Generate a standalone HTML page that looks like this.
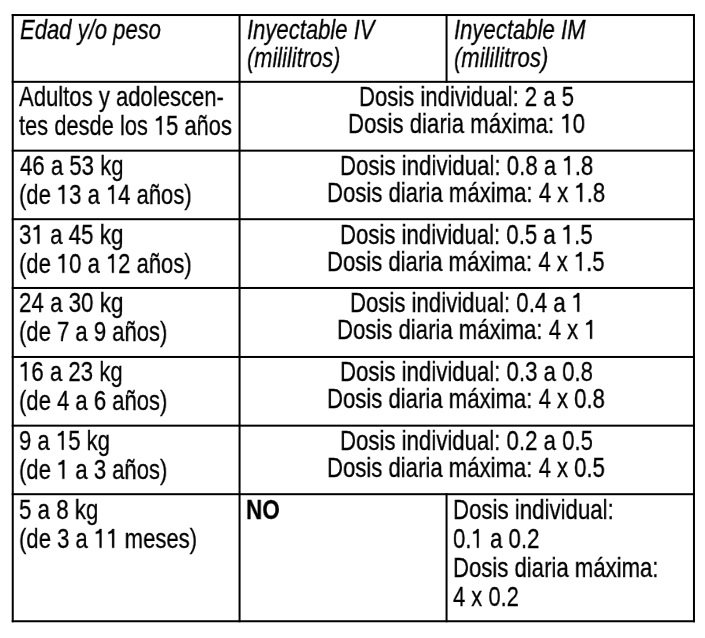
<!DOCTYPE html>
<html><head><meta charset="utf-8"><style>
html,body{margin:0;padding:0;background:#fff;width:705px;height:638px;overflow:hidden}
body{position:relative}
.g{position:absolute;left:0;top:0}
.t{position:absolute;font-family:"Liberation Sans",sans-serif;font-size:28px;line-height:28px;white-space:pre;color:#000;transform-origin:0 0;will-change:transform;-webkit-text-stroke:0.3px #000}
.o1{display:inline-block;width:15.572px;height:0;position:relative}.o1 svg{position:absolute;left:0;bottom:0;overflow:visible}.o1 path{stroke:#000;stroke-width:22;stroke-linejoin:round}
</style></head><body>
<svg class="g" width="705" height="638" viewBox="0 0 705 638">
<rect x="11.74" y="14.03" width="683.22" height="2.0"/>
<rect x="11.74" y="80.82" width="683.22" height="2.0"/>
<rect x="11.74" y="149.66" width="683.22" height="2.0"/>
<rect x="11.74" y="218.20" width="683.22" height="2.0"/>
<rect x="11.74" y="286.97" width="683.22" height="2.0"/>
<rect x="11.74" y="355.97" width="683.22" height="2.0"/>
<rect x="11.74" y="424.66" width="683.22" height="2.0"/>
<rect x="11.74" y="493.20" width="683.22" height="2.0"/>
<rect x="11.74" y="620.25" width="683.22" height="2.0"/>
<rect x="11.74" y="14.03" width="2.0" height="608.22"/>
<rect x="238.56" y="14.03" width="2.0" height="608.22"/>
<rect x="692.96" y="14.03" width="2.0" height="608.22"/>
<rect x="445.56" y="14.03" width="2.0" height="68.79"/>
<rect x="445.56" y="493.20" width="2.0" height="129.05"/>
</svg>
<div class="t" style="left:20.01px;top:16px;font-style:italic;transform:scaleX(0.7871)">Edad y/o peso</div>
<div class="t" style="left:247.21px;top:16px;font-style:italic;transform:scaleX(0.7877)">Inyectable IV</div>
<div class="t" style="left:247.42px;top:44px;font-style:italic;transform:scaleX(0.7797)">(mililitros)</div>
<div class="t" style="left:454.31px;top:16px;font-style:italic;transform:scaleX(0.7898)">Inyectable IM</div>
<div class="t" style="left:454.31px;top:44px;font-style:italic;transform:scaleX(0.7864)">(mililitros)</div>
<div class="t" style="left:19.20px;top:83px;transform:scaleX(0.7884)">Adultos y adolescen-</div>
<div class="t" style="left:19.30px;top:112px;transform:scaleX(0.7812)">tes desde los <span class="o1"><svg width="15.57" height="19.26" viewBox="0 0 1139 1409"><path d="M515 1380V300L165 372V222Q420 185 535 0H696V1380Z"/></svg></span>5 años</div>
<div class="t" style="left:19.50px;top:152px;transform:scaleX(0.7915)">46 a 53 kg</div>
<div class="t" style="left:19.41px;top:181px;transform:scaleX(0.7866)">(de <span class="o1"><svg width="15.57" height="19.26" viewBox="0 0 1139 1409"><path d="M515 1380V300L165 372V222Q420 185 535 0H696V1380Z"/></svg></span>3 a <span class="o1"><svg width="15.57" height="19.26" viewBox="0 0 1139 1409"><path d="M515 1380V300L165 372V222Q420 185 535 0H696V1380Z"/></svg></span>4 años)</div>
<div class="t" style="left:18.70px;top:221px;transform:scaleX(0.7977)">3<span class="o1"><svg width="15.57" height="19.26" viewBox="0 0 1139 1409"><path d="M515 1380V300L165 372V222Q420 185 535 0H696V1380Z"/></svg></span> a 45 kg</div>
<div class="t" style="left:19.41px;top:250px;transform:scaleX(0.7866)">(de <span class="o1"><svg width="15.57" height="19.26" viewBox="0 0 1139 1409"><path d="M515 1380V300L165 372V222Q420 185 535 0H696V1380Z"/></svg></span>0 a <span class="o1"><svg width="15.57" height="19.26" viewBox="0 0 1139 1409"><path d="M515 1380V300L165 372V222Q420 185 535 0H696V1380Z"/></svg></span>2 años)</div>
<div class="t" style="left:18.70px;top:289px;transform:scaleX(0.7977)">24 a 30 kg</div>
<div class="t" style="left:19.41px;top:318px;transform:scaleX(0.7876)">(de 7 a 9 años)</div>
<div class="t" style="left:19.31px;top:358px;transform:scaleX(0.7929)"><span class="o1"><svg width="15.57" height="19.26" viewBox="0 0 1139 1409"><path d="M515 1380V300L165 372V222Q420 185 535 0H696V1380Z"/></svg></span>6 a 23 kg</div>
<div class="t" style="left:19.41px;top:387px;transform:scaleX(0.7876)">(de 4 a 6 años)</div>
<div class="t" style="left:18.71px;top:427px;transform:scaleX(0.7903)">9 a <span class="o1"><svg width="15.57" height="19.26" viewBox="0 0 1139 1409"><path d="M515 1380V300L165 372V222Q420 185 535 0H696V1380Z"/></svg></span>5 kg</div>
<div class="t" style="left:19.41px;top:456px;transform:scaleX(0.7876)">(de <span class="o1"><svg width="15.57" height="19.26" viewBox="0 0 1139 1409"><path d="M515 1380V300L165 372V222Q420 185 535 0H696V1380Z"/></svg></span> a 3 años)</div>
<div class="t" style="left:18.70px;top:496px;transform:scaleX(0.7969)">5 a 8 kg</div>
<div class="t" style="left:19.41px;top:525px;transform:scaleX(0.7892)">(de 3 a <span class="o1"><svg width="15.57" height="19.26" viewBox="0 0 1139 1409"><path d="M515 1380V300L165 372V222Q420 185 535 0H696V1380Z"/></svg></span><span class="o1"><svg width="15.57" height="19.26" viewBox="0 0 1139 1409"><path d="M515 1380V300L165 372V222Q420 185 535 0H696V1380Z"/></svg></span> meses)</div>
<div class="t" style="left:358.72px;top:83px;transform:scaleX(0.7893)">Dosis individual: 2 a 5</div>
<div class="t" style="left:348.31px;top:110px;transform:scaleX(0.7932)">Dosis diaria máxima: <span class="o1"><svg width="15.57" height="19.26" viewBox="0 0 1139 1409"><path d="M515 1380V300L165 372V222Q420 185 535 0H696V1380Z"/></svg></span>0</div>
<div class="t" style="left:340.21px;top:152px;transform:scaleX(0.7937)">Dosis individual: 0.8 a <span class="o1"><svg width="15.57" height="19.26" viewBox="0 0 1139 1409"><path d="M515 1380V300L165 372V222Q420 185 535 0H696V1380Z"/></svg></span>.8</div>
<div class="t" style="left:327.32px;top:179px;transform:scaleX(0.7911)">Dosis diaria máxima: 4 x <span class="o1"><svg width="15.57" height="19.26" viewBox="0 0 1139 1409"><path d="M515 1380V300L165 372V222Q420 185 535 0H696V1380Z"/></svg></span>.8</div>
<div class="t" style="left:340.22px;top:221px;transform:scaleX(0.7918)">Dosis individual: 0.5 a <span class="o1"><svg width="15.57" height="19.26" viewBox="0 0 1139 1409"><path d="M515 1380V300L165 372V222Q420 185 535 0H696V1380Z"/></svg></span>.5</div>
<div class="t" style="left:327.32px;top:248px;transform:scaleX(0.7894)">Dosis diaria máxima: 4 x <span class="o1"><svg width="15.57" height="19.26" viewBox="0 0 1139 1409"><path d="M515 1380V300L165 372V222Q420 185 535 0H696V1380Z"/></svg></span>.5</div>
<div class="t" style="left:349.62px;top:289px;transform:scaleX(0.7917)">Dosis individual: 0.4 a <span class="o1"><svg width="15.57" height="19.26" viewBox="0 0 1139 1409"><path d="M515 1380V300L165 372V222Q420 185 535 0H696V1380Z"/></svg></span></div>
<div class="t" style="left:336.92px;top:316px;transform:scaleX(0.7907)">Dosis diaria máxima: 4 x <span class="o1"><svg width="15.57" height="19.26" viewBox="0 0 1139 1409"><path d="M515 1380V300L165 372V222Q420 185 535 0H696V1380Z"/></svg></span></div>
<div class="t" style="left:340.21px;top:358px;transform:scaleX(0.7927)">Dosis individual: 0.3 a 0.8</div>
<div class="t" style="left:327.32px;top:385px;transform:scaleX(0.7903)">Dosis diaria máxima: 4 x 0.8</div>
<div class="t" style="left:340.21px;top:427px;transform:scaleX(0.7927)">Dosis individual: 0.2 a 0.5</div>
<div class="t" style="left:327.32px;top:454px;transform:scaleX(0.7903)">Dosis diaria máxima: 4 x 0.5</div>
<div class="t" style="left:245.69px;top:496px;font-weight:bold;transform:scaleX(0.8026)">NO</div>
<div class="t" style="left:452.61px;top:496px;transform:scaleX(0.7944)">Dosis individual:</div>
<div class="t" style="left:452.81px;top:525px;transform:scaleX(0.7925)">0.<span class="o1"><svg width="15.57" height="19.26" viewBox="0 0 1139 1409"><path d="M515 1380V300L165 372V222Q420 185 535 0H696V1380Z"/></svg></span> a 0.2</div>
<div class="t" style="left:452.62px;top:554px;transform:scaleX(0.7906)">Dosis diaria máxima:</div>
<div class="t" style="left:453.30px;top:583px;transform:scaleX(0.7831)">4 x 0.2</div>
</body></html>
